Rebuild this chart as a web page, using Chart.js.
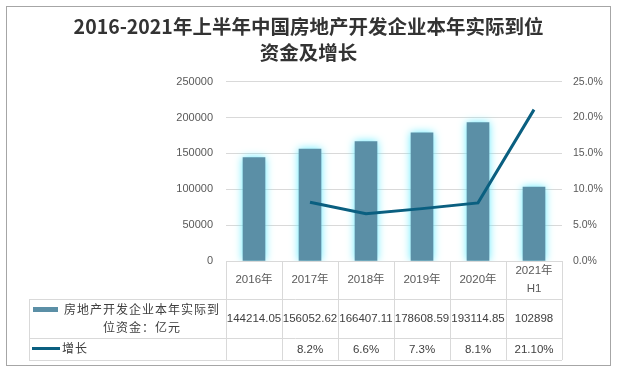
<!DOCTYPE html>
<html>
<head>
<meta charset="utf-8">
<script src="https://cdn.jsdelivr.net/npm/chart.js@4.4.0/dist/chart.umd.min.js"></script>
<style>
html, body { margin: 0; padding: 0; background: #fff; }
</style>
</head>
<body>
<canvas id="chart" width="617" height="371"></canvas>
<script>
// data
var years = ['2016年', '2017年', '2018年', '2019年', '2020年', ['2021年', 'H1']];
var funds = [144214.05, 156052.62, 166407.11, 178608.59, 193114.85, 102898];
var fundText = ['144214.05', '156052.62', '166407.11', '178608.59', '193114.85', '102898'];
var growth = [null, 8.2, 6.6, 7.3, 8.1, 21.1];
var growthText = ['', '8.2%', '6.6%', '7.3%', '8.1%', '21.10%'];
var fundName = '房地产开发企业本年实际到位资金：亿元';
var growthName = '增长';

var barColor = '#5b8fa6';
var lineColor = '#0a5f80';
var gridColor = '#d9d9d9';
var txtColor = '#595959';
var fontFam = "'Liberation Sans', 'Noto Sans CJK SC', sans-serif";

// glow round the bars
var glow = {
    id: 'glow',
    beforeDatasetDraw: function(chart, args) {
        if (args.index !== 0) return;
        var ctx = chart.ctx;
        ctx.save();
        ctx.shadowColor = 'rgba(100,235,255,1)';
        ctx.shadowBlur = 8;
    },
    afterDatasetDraw: function(chart, args) {
        if (args.index !== 0) return;
        chart.ctx.restore();
    }
};

// data table under the x axis + outer frame
var table = {
    id: 'table',
    afterDraw: function(chart) {
        var ctx = chart.ctx;
        var area = chart.chartArea;
        var xs = chart.scales.x;
        var n = years.length;
        var colW = (area.right - area.left) / n;
        var top = area.bottom;
        var r1 = xs.bottom;
        var r2 = r1 + 39;
        var r3 = r2 + 22;
        var left = 29;

        ctx.save();
        ctx.strokeStyle = gridColor;
        ctx.lineWidth = 1;
        ctx.beginPath();
        [r1, r2, r3].forEach(function(y) {
            ctx.moveTo(left, Math.round(y) + 0.5);
            ctx.lineTo(area.right, Math.round(y) + 0.5);
        });
        ctx.moveTo(area.left, Math.round(top) + 0.5);
        ctx.lineTo(area.right, Math.round(top) + 0.5);
        ctx.moveTo(left + 0.5, r1);
        ctx.lineTo(left + 0.5, r3);
        for (var i = 0; i <= n; i++) {
            var x = Math.round(area.left + i * colW) + 0.5;
            ctx.moveTo(x, top);
            ctx.lineTo(x, r3);
        }
        ctx.stroke();

        // values
        ctx.fillStyle = '#404040';
        ctx.font = '11.5px ' + fontFam;
        ctx.textAlign = 'center';
        ctx.textBaseline = 'middle';
        for (var j = 0; j < n; j++) {
            var cx = xs.getPixelForValue(j);
            ctx.fillText(fundText[j], cx, (r1 + r2) / 2);
            ctx.fillText(growthText[j], cx, (r2 + r3) / 2 + 1);
        }

        // legend keys
        ctx.fillStyle = barColor;
        ctx.fillRect(33, 307, 25, 5);
        ctx.strokeStyle = lineColor;
        ctx.lineWidth = 3;
        ctx.beginPath();
        ctx.moveTo(32, 348.5);
        ctx.lineTo(60, 348.5);
        ctx.stroke();

        ctx.fillStyle = '#404040';
        ctx.font = "12px 'Noto Sans CJK SC', sans-serif";
        ctx.letterSpacing = '1px';
        ctx.textAlign = 'center';
        ctx.fillText(fundName.slice(0, 12), 142, 309);
        ctx.fillText(fundName.slice(12), 142, 327);
        ctx.textAlign = 'left';
        ctx.fillText(growthName, 62, 348);
        ctx.letterSpacing = '0px';

        // frame
        ctx.strokeStyle = '#a6a6a6';
        ctx.lineWidth = 1;
        ctx.strokeRect(6.5, 6.5, 604, 359);
        ctx.restore();
    }
};

var ctx = document.getElementById('chart').getContext('2d');
new Chart(ctx, {
    type: 'bar',
    data: {
        labels: years,
        datasets: [
            {
                type: 'bar',
                label: fundName,
                data: funds,
                backgroundColor: barColor,
                barThickness: 22,
                yAxisID: 'y',
                order: 1
            },
            {
                type: 'line',
                label: growthName,
                data: growth,
                borderColor: lineColor,
                borderWidth: 3,
                pointRadius: 0,
                tension: 0,
                yAxisID: 'y1',
                order: 0
            }
        ]
    },
    options: {
        responsive: false,
        animation: false,
        devicePixelRatio: 1,
        layout: { padding: { top: 0, left: 0, right: 0, bottom: 72 } },
        plugins: {
            legend: { display: false },
            tooltip: { enabled: false },
            title: {
                display: true,
                text: ['2016-2021年上半年中国房地产开发企业本年实际到位', '资金及增长'],
                color: '#333333',
                font: { family: "'Noto Sans CJK SC', sans-serif", size: 19.5, weight: 'bold', lineHeight: 1.35 },
                padding: { top: 13, bottom: 16 }
            }
        },
        scales: {
            x: {
                grid: { display: false, drawTicks: false },
                border: { display: false },
                ticks: {
                    color: txtColor,
                    font: { family: fontFam, size: 11.5, lineHeight: '18px' },
                    crossAlign: 'center',
                    padding: 10,
                    maxRotation: 0,
                    autoSkip: false
                },
                afterFit: function(s) { s.height = 38; }
            },
            y: {
                position: 'left',
                min: 0,
                max: 250000,
                ticks: {
                    stepSize: 50000,
                    color: txtColor,
                    font: { family: fontFam, size: 11 },
                    padding: 13,
                    callback: function(v) { return String(v); }
                },
                grid: { color: gridColor, drawTicks: false },
                border: { display: false },
                afterFit: function(s) { s.width = 226; }
            },
            y1: {
                position: 'right',
                min: 0,
                max: 25,
                ticks: {
                    stepSize: 5,
                    color: txtColor,
                    font: { family: fontFam, size: 10.5 },
                    padding: 11,
                    callback: function(v) { return v.toFixed(1) + '%'; }
                },
                grid: { display: false, drawTicks: false },
                border: { display: false },
                afterFit: function(s) { s.width = 55; }
            }
        }
    },
    plugins: [glow, table]
});
</script>
</body>
</html>
